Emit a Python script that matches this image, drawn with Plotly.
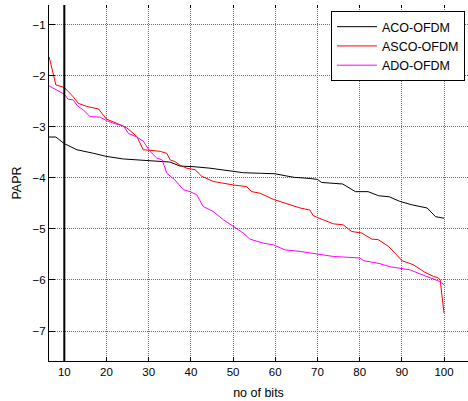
import plotly.graph_objects as go

# ---- data ----
aco_x = [6, 8, 10, 13, 17, 20, 24, 30, 35, 37.5, 40.5, 44.5, 50, 52.5, 56.5, 60, 62.5, 64.5,
         68, 70, 71, 74, 76, 79, 82, 84.5, 87, 89.5, 92.5, 96, 98, 100]
aco_y = [-3.20, -3.20, -3.33, -3.45, -3.52, -3.58, -3.63, -3.66, -3.69, -3.77, -3.78, -3.81,
         -3.88, -3.90, -3.91, -3.92, -3.96, -3.99, -4.01, -4.03, -4.09, -4.10, -4.12, -4.27,
         -4.27, -4.35, -4.37, -4.46, -4.53, -4.59, -4.76, -4.79]

asco_x = [6.4, 8, 10, 12.1, 13.3, 15.3, 18.1, 20, 22.4, 24.8, 27.2, 28.7, 30.3, 32.7, 34.3,
          35.1, 36.2, 37.4, 39, 41, 42.6, 45.3, 50.1, 53.2, 54.4, 56.4, 59.5, 62.7, 65.9, 68.2,
          69, 71, 73.8, 76.1, 78.1, 80.5, 82.9, 84.4, 86.8, 88.8, 90, 92.7, 95.5, 97.5, 98.7,
          99.1, 100]
asco_y = [-1.63, -2.18, -2.23, -2.41, -2.54, -2.60, -2.65, -2.85, -2.93, -3.02, -3.19, -3.45,
          -3.46, -3.48, -3.52, -3.65, -3.68, -3.75, -3.81, -3.84, -3.97, -4.07, -4.14, -4.17,
          -4.27, -4.30, -4.42, -4.50, -4.59, -4.63, -4.74, -4.81, -4.90, -4.92, -5.05, -5.08,
          -5.20, -5.21, -5.34, -5.51, -5.62, -5.70, -5.85, -5.93, -5.96, -6.00, -6.65]

ado_x = [6.4, 10, 10.9, 12.1, 13.1, 14.5, 16.1, 18.5, 20, 21.6, 24, 25.2, 27.2, 28.7, 30.3,
         31.9, 33.2, 34.3, 36.2, 38.2, 39.8, 41.4, 42.9, 45.3, 47.7, 50.1, 52.4, 54, 57.2,
         59.5, 62.3, 65.9, 69.8, 73.8, 76.1, 80.1, 80.9, 84.8, 87.1, 89.6, 91.9, 94.3, 97.1,
         98.7, 100]
ado_y = [-2.20, -2.36, -2.46, -2.47, -2.59, -2.67, -2.80, -2.81, -2.88, -2.93, -2.98, -3.13,
         -3.20, -3.28, -3.48, -3.61, -3.65, -3.91, -4.04, -4.23, -4.27, -4.33, -4.56, -4.66,
         -4.82, -4.95, -5.08, -5.20, -5.28, -5.31, -5.41, -5.44, -5.49, -5.54, -5.55, -5.57,
         -5.62, -5.68, -5.74, -5.77, -5.80, -5.88, -5.96, -6.02, -6.09]

x_ticks = [10, 20, 30, 40, 50, 60, 70, 80, 90, 100]
y_ticks = [-7, -6, -5, -4, -3, -2, -1]
marker_x = 10  # thick vertical line in the reference

FONT = "Liberation Sans, Arial, sans-serif"
GRID = "#6e6e6e"
GRID_DASH = "1px,1px"

fig = go.Figure()
fig.add_trace(go.Scatter(x=aco_x, y=aco_y, mode="lines", name="ACO-OFDM",
                         line=dict(color="black", width=1)))
fig.add_trace(go.Scatter(x=asco_x, y=asco_y, mode="lines", name="ASCO-OFDM",
                         line=dict(color="#ff0000", width=1)))
fig.add_trace(go.Scatter(x=ado_x, y=ado_y, mode="lines", name="ADO-OFDM",
                         line=dict(color="#ff00ff", width=1)))

xr = [6.37, 105.69]
yr = [-7.587, -0.614]

fig.add_shape(type="line", xref="x", yref="paper", x0=marker_x, x1=marker_x, y0=0, y1=1,
              line=dict(color="black", width=2))

fig.update_layout(
    width=468, height=401,
    margin=dict(l=49, r=0, t=5, b=40, pad=0, autoexpand=False),
    paper_bgcolor="white", plot_bgcolor="white",
    font=dict(family=FONT, size=11.5, color="black"),
    showlegend=True,
    legend=dict(x=0.9928, xanchor="right", y=0.983, yanchor="top",
                bordercolor="black", borderwidth=1, bgcolor="white",
                font=dict(size=12.5, family=FONT), itemwidth=40, tracegroupgap=0),
    xaxis=dict(range=xr, tickvals=x_ticks, showline=True, linecolor="black", linewidth=1,
               ticks="inside", ticklen=4, tickcolor="black", showgrid=True, gridcolor=GRID,
               griddash=GRID_DASH, gridwidth=1, zeroline=False, automargin=False,
               title=dict(text="no of bits", font=dict(size=12.5), standoff=11)),
    yaxis=dict(range=yr, tickvals=y_ticks, showline=True, linecolor="black", linewidth=1,
               ticks="inside", ticklen=6, tickcolor="black", showgrid=True, gridcolor=GRID,
               griddash=GRID_DASH, gridwidth=1, zeroline=False, automargin=False,
               title=dict(text="PAPR", font=dict(size=12.5), standoff=8)),
    xaxis2=dict(range=xr, tickvals=x_ticks, overlaying="x", side="top", showline=False,
                ticks="inside", ticklen=3, tickcolor="black", showticklabels=False,
                showgrid=False, zeroline=False, automargin=False),
)
fig.add_trace(go.Scatter(x=[xr[0]], y=[yr[0]], xaxis="x2", mode="markers",
                         marker=dict(opacity=0), showlegend=False, hoverinfo="skip"))

fig.write_html("out.html", config={"displayModeBar": False},
               post_script="document.body.style.margin='0';document.body.style.padding='0';"
                           "document.body.style.overflow='hidden';")
